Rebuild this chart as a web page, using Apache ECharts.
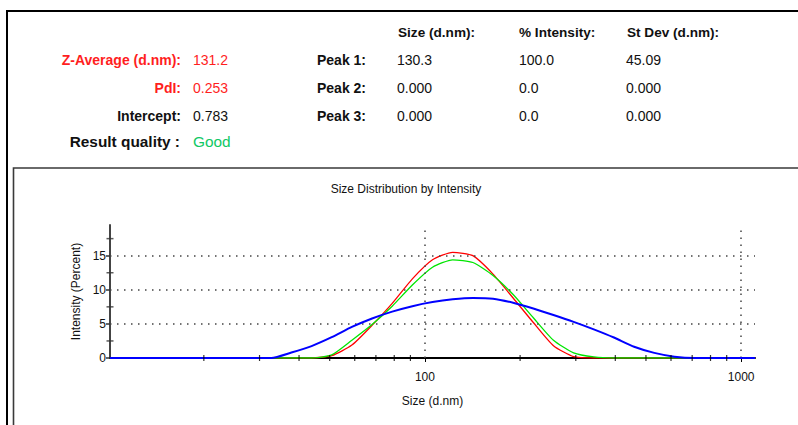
<!DOCTYPE html>
<html>
<head>
<meta charset="utf-8">
<title>Size Distribution by Intensity</title>
<script src="https://cdn.jsdelivr.net/npm/echarts@6/dist/echarts.min.js"></script>
<style>
  html, body { margin: 0; padding: 0; background: #fff; }
  #chart { width: 798px; height: 425px; }
</style>
</head>
<body>
<div id="chart"></div>
<script>
// Size classes (d.nm) of the DLS report, log spaced
const sizes = [10.1, 11.7, 13.54, 15.69, 18.17, 21.04, 24.36, 28.21, 32.67, 37.84,
  43.82, 50.75, 58.77, 68.06, 78.82, 91.28, 105.7, 122.4, 141.8, 164.2,
  190.1, 220.2, 255.0, 295.3, 342.0, 396.1, 458.7, 531.2, 615.1, 712.4,
  825.0, 955.4, 1106];

// Intensity (%) per size class for the three records
const redRecord = [0, 0, 0, 0, 0, 0, 0, 0, 0, 0,
  0, 0.35, 1.9, 4.8, 8.0, 11.6, 14.4, 15.5, 15.0, 12.3,
  8.8, 5.2, 1.8, 0.2, 0, 0, 0, 0, 0, 0,
  0, 0, 0];
const greenRecord = [0, 0, 0, 0, 0, 0, 0, 0, 0, 0,
  0, 0.45, 2.6, 4.9, 7.6, 10.7, 13.3, 14.4, 14.0, 12.1,
  9.3, 5.9, 2.6, 0.75, 0.15, 0, 0, 0, 0, 0,
  0, 0, 0];
const blueRecord = [0, 0, 0, 0, 0, 0, 0, 0, 0, 0.8,
  1.75, 3.05, 4.55, 5.8, 6.8, 7.6, 8.2, 8.6, 8.8, 8.7,
  8.1, 7.25, 6.3, 5.3, 4.2, 3.0, 1.65, 0.75, 0.2, 0,
  0, 0, 0];

// Axis settings
const xMin = 10.1, xMax = 1106;
const yMin = 0, yMax = 19.5;
const xTickLabels = [100, 1000];
const xMinorTicks = [20, 30, 40, 50, 60, 70, 80, 90, 200, 300, 400, 500, 600, 700, 800, 900];
const yTickLabels = [0, 5, 10, 15];
const yMinorTicks = [2.5, 7.5, 12.5, 17.5];
const gridX = [100, 1000];
const gridY = [5, 10, 15];

// Report summary table
const summaryLabels = ['Z-Average (d.nm):', 'PdI:', 'Intercept:'];
const summaryValues = ['131.2', '0.253', '0.783'];
const peakLabels = ['Peak 1:', 'Peak 2:', 'Peak 3:'];
const peakHeaders = ['Size (d.nm):', '% Intensity:', 'St Dev (d.nm):'];
const peakSize = ['130.3', '0.000', '0.000'];
const peakIntensity = ['100.0', '0.0', '0.0'];
const peakStDev = ['45.09', '0.000', '0.000'];
const qualityLabel = 'Result quality :';
const qualityValue = 'Good';

const FONT = '"Liberation Sans", Arial, sans-serif';
const RED = '#ff1e1e';
const INK = '#111';

function txt(x, y, text, opt) {
  opt = opt || {};
  const size = opt.size || 14;
  const weight = opt.bold ? 'bold' : 'normal';
  return {
    type: 'text', x: x, y: y, silent: true,
    style: {
      text: text,
      font: weight + ' ' + size + 'px ' + FONT,
      fill: opt.color || INK,
      align: opt.align || 'left', textAlign: opt.align || 'left',
      verticalAlign: 'middle', textVerticalAlign: 'middle'
    }
  };
}

const rowY = [60, 87.5, 115.5];
const headerY = 32;
const graphics = [
  // report frame and chart panel frame
  { type: 'rect', silent: true, shape: { x: 7, y: 11, width: 900, height: 600 },
    style: { fill: 'none', stroke: '#000', lineWidth: 2 } },
  { type: 'rect', silent: true, shape: { x: 13.5, y: 168, width: 900, height: 600 },
    style: { fill: 'none', stroke: '#3a3a3a', lineWidth: 1.6 } }
];
summaryLabels.forEach((t, i) => {
  const c = i < 2 ? RED : INK;
  graphics.push(txt(181, rowY[i], t, { bold: true, align: 'right', color: c }));
  graphics.push(txt(193, rowY[i], summaryValues[i], { color: c }));
  graphics.push(txt(317, rowY[i], peakLabels[i], { bold: true }));
  graphics.push(txt(397, rowY[i], peakSize[i]));
  graphics.push(txt(519, rowY[i], peakIntensity[i]));
  graphics.push(txt(626, rowY[i], peakStDev[i]));
});
[398, 519, 627].forEach((x, i) => graphics.push(txt(x, headerY, peakHeaders[i], { bold: true, size: 13.6 })));
graphics.push(txt(180, 141.5, qualityLabel, { bold: true, size: 15.4, align: 'right' }));
graphics.push(txt(193, 141.5, qualityValue, { size: 15.4, color: '#10c864' }));
graphics.push(txt(406, 189, 'Size Distribution by Intensity', { size: 12, align: 'center' }));

const pairs = (vals) => sizes.map((s, i) => [s, vals[i]]);

const chart = echarts.init(document.getElementById('chart'), null, { renderer: 'svg' });
chart.setOption({
  animation: false,
  backgroundColor: '#fff',
  textStyle: { fontFamily: FONT },
  graphic: graphics,
  grid: { left: 110, right: 43, top: 225, bottom: 67, containLabel: false },
  xAxis: {
    type: 'log', min: xMin, max: xMax, logBase: 10,
    name: 'Size (d.nm)', nameLocation: 'middle', nameGap: 37,
    nameTextStyle: { fontSize: 12, color: INK, fontFamily: FONT },
    axisLine: { show: true, onZero: false, lineStyle: { color: '#000', width: 2 } },
    axisTick: { show: true, length: 4, customValues: xTickLabels, lineStyle: { color: '#000', width: 1 } },
    axisLabel: {
      customValues: xTickLabels, fontSize: 12, color: INK, margin: 13, fontFamily: FONT,
      formatter: (v) => String(Math.round(v))
    },
    splitLine: { show: false },
    minorTick: { show: false }
  },
  yAxis: {
    type: 'value', min: yMin, max: yMax,
    name: 'Intensity (Percent)', nameLocation: 'middle', nameGap: 28, nameRotate: 90,
    nameTextStyle: { fontSize: 12, color: INK, fontFamily: FONT },
    axisLine: { show: true, lineStyle: { color: '#444', width: 2 } },
    axisTick: { show: true, length: 4, customValues: yTickLabels, lineStyle: { color: '#333', width: 1.5 } },
    axisLabel: { customValues: yTickLabels, fontSize: 12, color: INK, margin: 4, fontFamily: FONT },
    splitLine: { show: false }
  },
  series: [
    {
      name: 'Record 1', type: 'line', data: pairs(redRecord), showSymbol: false,
      smooth: 0.2, lineStyle: { color: '#ff0000', width: 1.3 }, itemStyle: { color: '#ff0000' },
      silent: true, z: 3,
      markLine: {
        silent: true, symbol: 'none', label: { show: false },
        lineStyle: { color: '#444', width: 1.5, type: [1.5, 5.5] },
        data: gridX.map(v => ({ xAxis: v })).concat(gridY.map(v => ({ yAxis: v })))
      }
    },
    {
      name: 'Record 2', type: 'line', data: pairs(greenRecord), showSymbol: false,
      smooth: 0.2, lineStyle: { color: '#00e600', width: 1.3 }, itemStyle: { color: '#00e600' },
      silent: true, z: 4
    },
    {
      name: 'Record 3', type: 'line', data: pairs(blueRecord), showSymbol: false,
      smooth: 0.2, lineStyle: { color: '#0000ff', width: 2 }, itemStyle: { color: '#0000ff' },
      silent: true, z: 5
    },
    {
      name: 'x minor ticks', type: 'scatter', silent: true, clip: false, z: 6,
      symbol: 'rect', symbolSize: [1.2, 6], itemStyle: { color: '#000' },
      data: xMinorTicks.map(v => [v, 0])
    },
    {
      name: 'y minor ticks', type: 'scatter', silent: true, clip: false, z: 6,
      symbol: 'rect', symbolSize: [7, 1.5], itemStyle: { color: '#333' },
      data: yMinorTicks.map(v => [xMin, v])
    }
  ]
});
</script>
</body>
</html>
